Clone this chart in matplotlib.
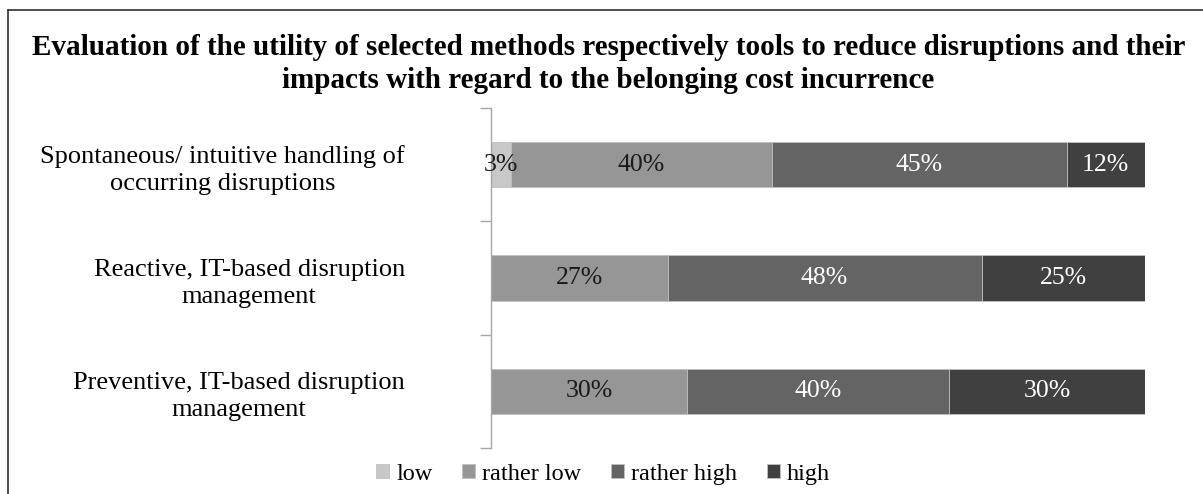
import matplotlib
matplotlib.use("Agg")
import matplotlib.pyplot as plt
from matplotlib.lines import Line2D
import numpy as np

plt.rcParams["font.family"] = ["Liberation Serif", "DejaVu Serif"]

title = ("Evaluation of the utility of selected methods respectively tools to reduce disruptions and their\n"
         "impacts with regard to the belonging cost incurrence")
categories = [
    "Spontaneous/ intuitive handling of\noccurring disruptions",
    "Reactive, IT-based disruption\nmanagement",
    "Preventive, IT-based disruption\nmanagement",
]
series_names = ["low", "rather low", "rather high", "high"]
low = [3, 0, 0]
rather_low = [40, 27, 30]
rather_high = [45, 48, 40]
high = [12, 25, 30]
series_values = [low, rather_low, rather_high, high]
colors = ["#c8c8c8", "#969696", "#646464", "#404040"]
label_colors = ["#1a1a1a", "#1a1a1a", "#ffffff", "#ffffff"]

W, H = 1203, 494
fig = plt.figure(figsize=(W / 100, H / 100), dpi=100)
ax = fig.add_axes([491 / W, (H - 448) / H, 654 / W, 340 / H])

y = np.arange(len(categories))
left = np.zeros(len(categories))
for name, vals, col, lcol in zip(series_names, series_values, colors, label_colors):
    vals = np.array(vals, dtype=float)
    bars = ax.barh(y, vals, left=left, height=0.4, color=col, edgecolor="#c0c0c0",
                   linewidth=0.6, label=name)
    for b, v in zip(bars, vals):
        if v > 0:
            ax.text(b.get_x() + b.get_width() / 2, b.get_y() + b.get_height() / 2,
                    f"{v:.0f}%", ha="center", va="center", fontsize=18.5, color=lcol)
    left += vals

ax.set_xlim(0, 100)
ax.set_ylim(len(categories) - 0.5, -0.5)
ax.set_yticks(y)
ax.set_yticklabels(categories, fontsize=19, multialignment="center", linespacing=1.3)
ax.set_yticks(np.arange(-0.5, len(categories)), minor=True)
ax.tick_params(axis="y", which="major", length=0, pad=62)
ax.tick_params(axis="y", which="minor", length=8, color="#a6a6a6", width=1)
ax.set_xticks([])
for s in ["top", "right", "bottom"]:
    ax.spines[s].set_visible(False)
ax.spines["left"].set_color("#a6a6a6")
ax.spines["left"].set_linewidth(1)

fig.text(0.5 + 7 / W, 1 - 64 / H, title, ha="center", va="center", fontsize=21,
         fontweight="bold", linespacing=1.25)

# frame lines along the top and left edges of the figure
fig.add_artist(Line2D([8 / W, 1], [1 - 10 / H, 1 - 10 / H], color="#303030", lw=1.2))
fig.add_artist(Line2D([8 / W, 8 / W], [0, 1 - 10 / H], color="#303030", lw=1.2))

fig.legend(loc="center", bbox_to_anchor=(603 / W, 1 - 474 / H), ncol=4, frameon=False,
           fontsize=17.5, handlelength=0.55, handleheight=0.55, handletextpad=0.3,
           columnspacing=1.2, borderpad=0)

fig.savefig("out.png", dpi=100)
